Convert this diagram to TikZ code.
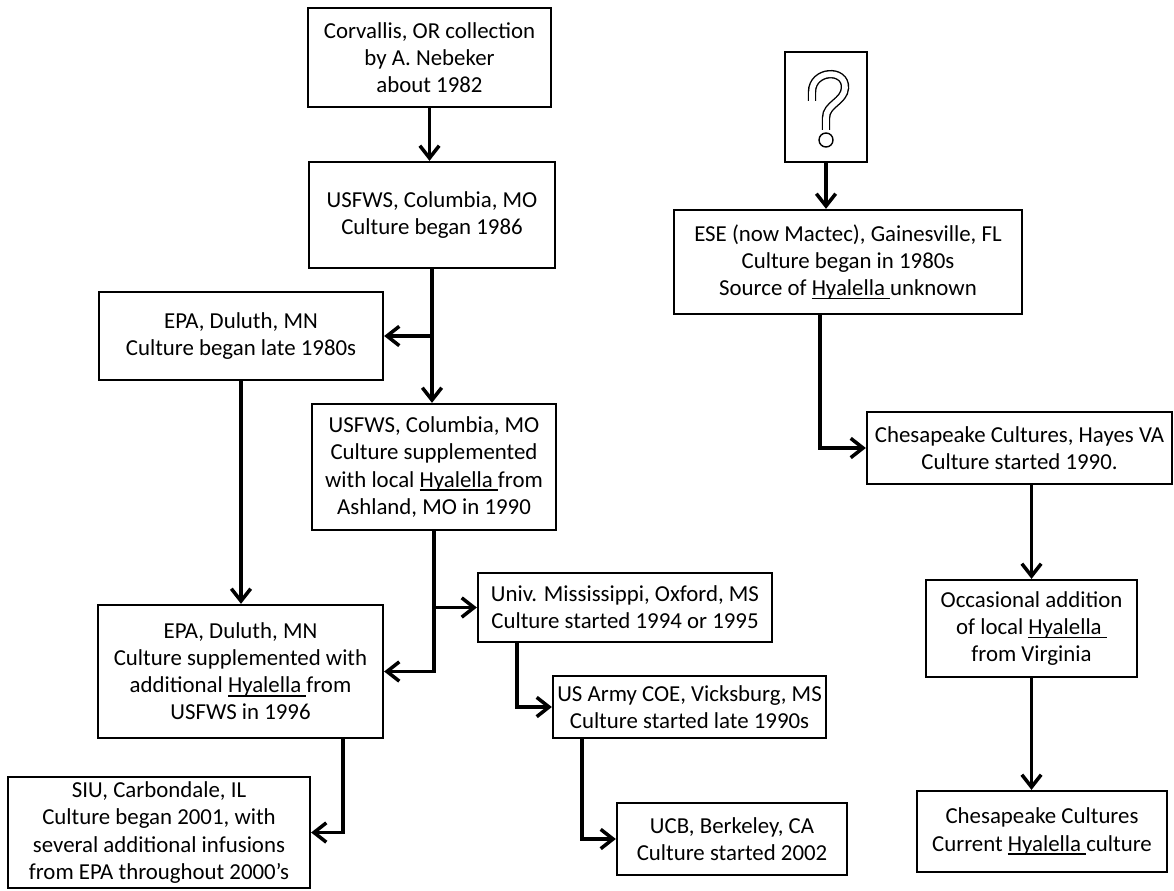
\documentclass[tikz,border=0pt]{standalone}
\usepackage{fontspec}
\setmainfont{Carlito}
\usepackage{tikz}
\usetikzlibrary{arrows.meta}
\newcommand{\flowfont}{\fontsize{13}{15.4}\selectfont}
\newcommand{\hyal}{\setbox0=\hbox{Hyalella\ }\rlap{\rule[-2.2pt]{\wd0}{0.9pt}}\box0}
\tikzset{
  orgbox/.style={rectangle, draw, line width=1.3pt, align=center,
    inner sep=2pt, font=\flowfont},
  arrow/.style={-{Straight Barb[length=7pt, width=11pt]}, line width=2pt},
}

\begin{document}
\begin{tikzpicture}
  \useasboundingbox (0,0) rectangle (23.48,17.8);
  % Left lineage (Corvallis collection)
  \node[orgbox, minimum width=4.86cm, minimum height=1.98cm] (corvallis) at (8.59,16.65)
    {Corvallis, OR collection\\ by A. Nebeker\\ about 1982};
  \node[orgbox, minimum width=4.92cm, minimum height=2.12cm] (usfwsA) at (8.64,13.50)
    {USFWS, Columbia, MO\\ Culture began 1986};
  \node[orgbox, minimum width=5.68cm, minimum height=1.76cm] (epaA) at (4.82,11.08)
    {EPA, Duluth, MN\\ Culture began late 1980s};
  \node[orgbox, minimum width=4.88cm, minimum height=2.52cm] (usfwsB) at (8.68,8.46)
    {USFWS, Columbia, MO\\ Culture supplemented\\ with local \hyal from\\ Ashland, MO in 1990};
  \node[orgbox, minimum width=5.70cm, minimum height=2.66cm] (epaB) at (4.81,4.37)
    {EPA, Duluth, MN\\ Culture supplemented with\\ additional \hyal from\\ USFWS in 1996};
  \node[orgbox, minimum width=6.04cm, minimum height=2.22cm] (siu) at (3.18,1.15)
    {SIU, Carbondale, IL\\ Culture began 2001, with\\ several additional infusions\\ from EPA throughout 2000’s};
  \node[orgbox, minimum width=5.88cm, minimum height=1.38cm] (univ) at (12.50,5.65)
    {Univ. Mississippi, Oxford, MS\\ Culture started 1994 or 1995};
  \node[orgbox, minimum width=5.46cm, minimum height=1.24cm] (army) at (13.79,3.66)
    {US Army COE, Vicksburg, MS\\ Culture started late 1990s};
  \node[orgbox, minimum width=4.60cm, minimum height=1.44cm] (ucb) at (14.64,1.02)
    {UCB, Berkeley, CA\\ Culture started 2002};
  % Right lineage (unknown source)
  \node[orgbox, minimum width=1.64cm, minimum height=2.20cm] (unknown) at (16.52,15.66) {};
  \node[orgbox, minimum width=6.96cm, minimum height=2.08cm] (ese) at (16.96,12.56)
    {ESE (now Mactec), Gainesville, FL\\ Culture began in 1980s\\ Source of \hyal unknown};
  \node[orgbox, minimum width=6.10cm, minimum height=1.44cm] (hayes) at (20.39,8.84)
    {Chesapeake Cultures, Hayes VA\\ Culture started 1990.};
  \node[orgbox, minimum width=4.22cm, minimum height=1.94cm] (occasional) at (20.63,5.23)
    {Occasional addition\\ of local \hyal\\ from Virginia};
  \node[orgbox, minimum width=5.00cm, minimum height=1.62cm] (current) at (20.84,1.17)
    {Chesapeake Cultures\\ Current \hyal culture};
  % Question mark
  \draw[line width=0.8pt, double=white, double distance=3.2pt]
    (16.24,15.78) -- (16.24,15.96)
    .. controls (16.24,16.40) and (16.92,16.44) .. (16.90,16.04)
    .. controls (16.88,15.76) and (16.52,15.72) .. (16.52,15.44)
    -- (16.52,15.20);
  \draw[line width=0.8pt, fill=white] (16.52,15.00) circle (0.14);
  % Connectors
  \draw[arrow] (corvallis.south) -- (corvallis.south |- usfwsA.north);
  \draw[arrow] (usfwsA.south) -- (usfwsA.south |- usfwsB.north);
  \draw[arrow] (usfwsA.south |- epaA.east) -- (epaA.east);
  \draw[arrow] (epaA.south) -- (epaA.south |- epaB.north);
  \draw[arrow] (usfwsB.south) |- (epaB.east);
  \draw[arrow] (usfwsB.south |- univ.west) -- (univ.west);
  \draw[arrow] ([xshift=-0.82cm]epaB.south east) |- (siu.east);
  \draw[arrow] ([xshift=0.80cm]univ.south west) |- (army.west);
  \draw[arrow] ([xshift=0.60cm]army.south west) |- (ucb.west);
  \draw[arrow] (unknown.south) -- (unknown.south |- ese.north);
  \draw[arrow] ([xshift=2.94cm]ese.south west) |- (hayes.west);
  \draw[arrow] (occasional.north |- hayes.south) -- (occasional.north);
  \draw[arrow] (occasional.south) -- (occasional.south |- current.north);
\end{tikzpicture}
\end{document}
